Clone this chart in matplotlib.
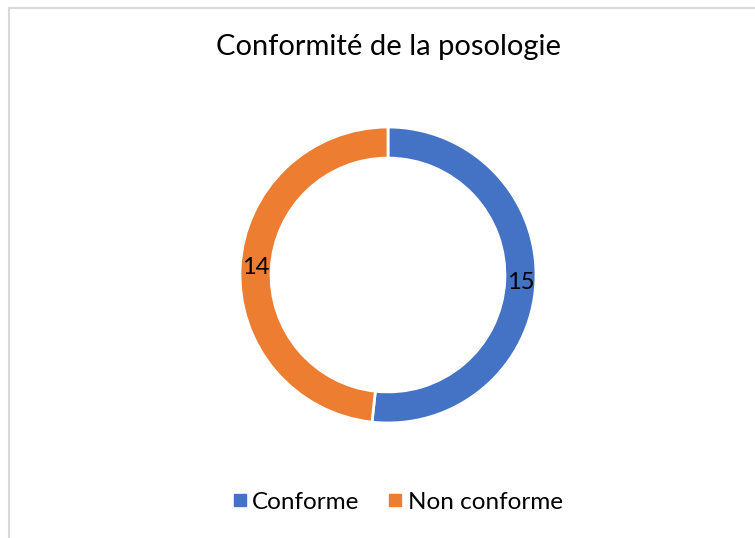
import numpy as np
import matplotlib
matplotlib.use("Agg")
import matplotlib.pyplot as plt
from matplotlib.lines import Line2D

# données du graphique
categories = ["Conforme", "Non conforme"]
valeurs = [15, 14]
couleurs = ["#4472C4", "#ED7D31"]
titre = "Conformité de la posologie"

plt.rcParams['font.family'] = ['Lato', 'DejaVu Sans']

W, H = 755, 538
fig = plt.figure(figsize=(W / 100, H / 100), dpi=100)

# centre du donut (px) et rayon
cx, cy, r = 388, 275, 148
ax = fig.add_axes([(cx - r) / W, (H - cy - r) / H, 2 * r / W, 2 * r / H])

wedges, texts = ax.pie(valeurs, colors=couleurs, startangle=90, counterclock=False,
                       radius=1, wedgeprops=dict(width=0.21, edgecolor="white", linewidth=2))
for w, v in zip(wedges, valeurs):
    ang = np.deg2rad((w.theta1 + w.theta2) / 2)
    ax.text(0.895 * np.cos(ang), 0.895 * np.sin(ang), str(v), ha="center", va="center",
            fontsize=17, color="black")
ax.set_xlim(-1, 1)
ax.set_ylim(-1, 1)
ax.set_aspect("equal")
ax.axis("off")

fig.text(388 / W, 1 - 47 / H, titre, ha="center", va="center", fontsize=21, color="black")

# légende
handles = [Line2D([], [], marker="s", linestyle="none", markersize=8, color=c) for c in couleurs]
fig.legend(handles, categories, loc="center", bbox_to_anchor=(395 / W, 1 - 502 / H), ncol=2,
           frameon=False, fontsize=17.5, handletextpad=0.0, columnspacing=1.0, handlelength=1.0)

# cadre du graphique
fig.add_artist(Line2D([8.5 / W, 8.5 / W], [0, 1 - 7.5 / H], color="#D9D9D9", lw=1.5))
fig.add_artist(Line2D([8.5 / W, 1], [1 - 7.5 / H, 1 - 7.5 / H], color="#D9D9D9", lw=1.5))

fig.savefig("out.png", dpi=100, facecolor="white")
